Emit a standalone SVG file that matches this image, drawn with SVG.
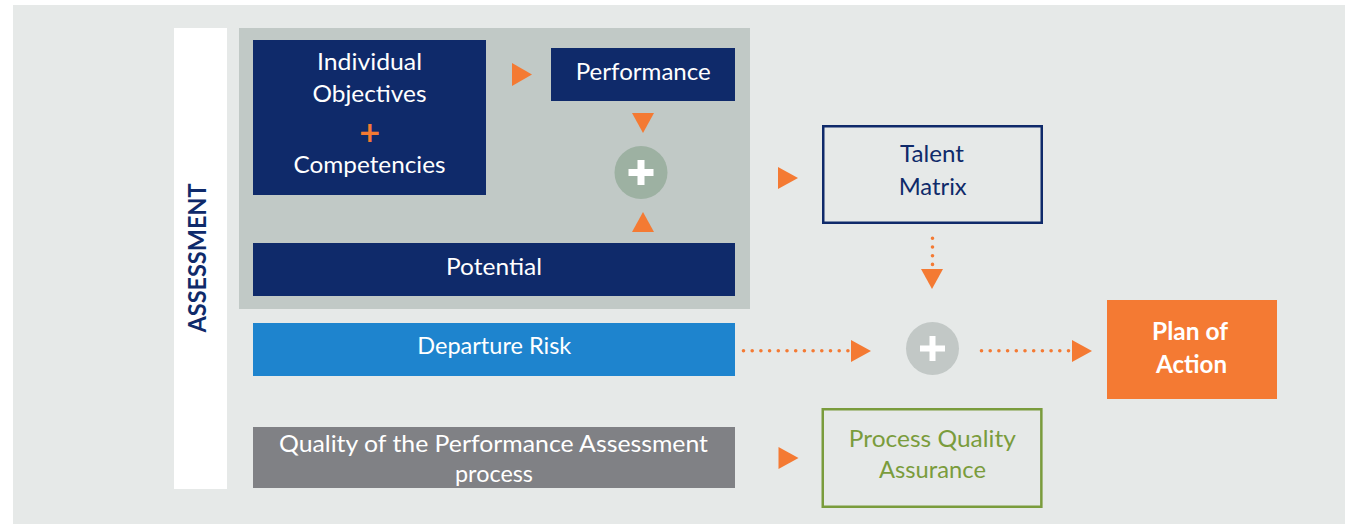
<svg xmlns="http://www.w3.org/2000/svg" width="1345" height="525" viewBox="0 0 1345 525">
  <style>
    .t { font-family: Lato, "Open Sans", "Liberation Sans", sans-serif; font-size: 24px; text-anchor: middle; }
    .w { fill: #ffffff; }
    .navy { fill: #0f2a6a; }
    .b { font-weight: bold; }
    .arrow { fill: #f47a33; }
    .dots { stroke: #f47a33; stroke-width: 3.6; stroke-linecap: round; stroke-dasharray: 0 8.7; fill: none; }
  </style>
  <rect x="0" y="0" width="1345" height="525" fill="#ffffff"/>
  <rect x="13" y="5" width="1332" height="519" fill="#e6e9e8"/>

  <g id="assessment-band">
    <rect x="174" y="28" width="53" height="461" fill="#ffffff"/>
    <text class="t b navy" font-size="23" transform="translate(205.5,258) rotate(-90)" textLength="149" lengthAdjust="spacingAndGlyphs">ASSESSMENT</text>
  </g>

  <g id="inner-panel">
    <rect x="239" y="28" width="511" height="281" fill="#c1c9c6"/>
  </g>

  <g id="individual-objectives">
    <rect x="253" y="40" width="233" height="155" fill="#0f2a6a"/>
    <text class="t w" x="369.5" y="70" textLength="105" lengthAdjust="spacingAndGlyphs">Individual</text>
    <text class="t w" x="369.5" y="101.5" textLength="114" lengthAdjust="spacingAndGlyphs">Objectives</text>
    <text x="369.8" y="141.5" font-family="'DejaVu Sans', sans-serif" font-weight="bold" font-size="28" text-anchor="middle" fill="#f47a33">+</text>
    <text class="t w" x="369.5" y="173.3" textLength="152" lengthAdjust="spacingAndGlyphs">Competencies</text>
  </g>

  <g id="performance">
    <rect x="551" y="48" width="184" height="53" fill="#0f2a6a"/>
    <text class="t w" x="643.3" y="80.3" textLength="135" lengthAdjust="spacingAndGlyphs">Performance</text>
  </g>

  <g id="plus-1">
    <circle cx="641" cy="172.5" r="26.5" fill="#9db1a2"/>
    <rect x="628.5" y="169" width="25" height="7" fill="#ffffff"/>
    <rect x="637.5" y="160" width="7" height="25" fill="#ffffff"/>
  </g>

  <g id="potential">
    <rect x="253" y="243" width="482" height="53" fill="#0f2a6a"/>
    <text class="t w" x="494" y="275" textLength="96" lengthAdjust="spacingAndGlyphs">Potential</text>
  </g>

  <g id="departure-risk">
    <rect x="253" y="323" width="482" height="53" fill="#1e84ce"/>
    <text class="t w" x="494.3" y="354.3" textLength="154" lengthAdjust="spacingAndGlyphs">Departure Risk</text>
  </g>

  <g id="quality">
    <rect x="253" y="427" width="482" height="61" fill="#808185"/>
    <text class="t w" x="493.5" y="452" textLength="429" lengthAdjust="spacingAndGlyphs">Quality of the Performance Assessment</text>
    <text class="t w" x="494" y="482" textLength="78" lengthAdjust="spacingAndGlyphs">process</text>
  </g>

  <g id="talent-matrix">
    <rect x="823.25" y="126.25" width="218.5" height="96.5" fill="none" stroke="#0f2a6a" stroke-width="2.5"/>
    <text class="t navy" x="932" y="162.3" font-size="23" textLength="64" lengthAdjust="spacingAndGlyphs">Talent</text>
    <text class="t navy" x="932.7" y="195" font-size="23" textLength="68" lengthAdjust="spacingAndGlyphs">Matrix</text>
  </g>

  <g id="plus-2">
    <circle cx="932.5" cy="348.5" r="26.5" fill="#c2c8c6"/>
    <rect x="920" y="345.5" width="25" height="6" fill="#ffffff"/>
    <rect x="929.5" y="336" width="6" height="25" fill="#ffffff"/>
  </g>

  <g id="plan-of-action">
    <rect x="1107" y="300" width="170" height="99" fill="#f47a33"/>
    <text class="t w b" x="1190" y="340" textLength="76" lengthAdjust="spacingAndGlyphs">Plan of</text>
    <text class="t w b" x="1191.5" y="373.3" textLength="71" lengthAdjust="spacingAndGlyphs">Action</text>
  </g>

  <g id="process-quality-assurance">
    <rect x="822.75" y="409.25" width="218.6" height="97.5" fill="none" stroke="#7a9c3c" stroke-width="2.5"/>
    <text class="t" x="932.3" y="447" fill="#7a9c3c" textLength="167" lengthAdjust="spacingAndGlyphs">Process Quality</text>
    <text class="t" x="932.5" y="478" fill="#7a9c3c" textLength="107" lengthAdjust="spacingAndGlyphs">Assurance</text>
  </g>

  <g id="connectors">
    <polygon class="arrow" points="512,63 532,74.5 512,86"/>
    <polygon class="arrow" points="632,113 654,113 643,133"/>
    <polygon class="arrow" points="632,232 654,232 643,212"/>
    <polygon class="arrow" points="778,167 798,178 778,189"/>
    <line class="dots" x1="932.5" y1="238.3" x2="932.5" y2="265"/>
    <polygon class="arrow" points="921,269 943,269 932,289"/>
    <line class="dots" x1="743.5" y1="350.7" x2="848" y2="350.7"/>
    <polygon class="arrow" points="851,340 871,351 851,362"/>
    <line class="dots" x1="981.5" y1="350.7" x2="1069" y2="350.7"/>
    <polygon class="arrow" points="1072,340 1092,351 1072,362"/>
    <polygon class="arrow" points="778.5,447 798.5,458 778.5,469"/>
  </g>
</svg>
